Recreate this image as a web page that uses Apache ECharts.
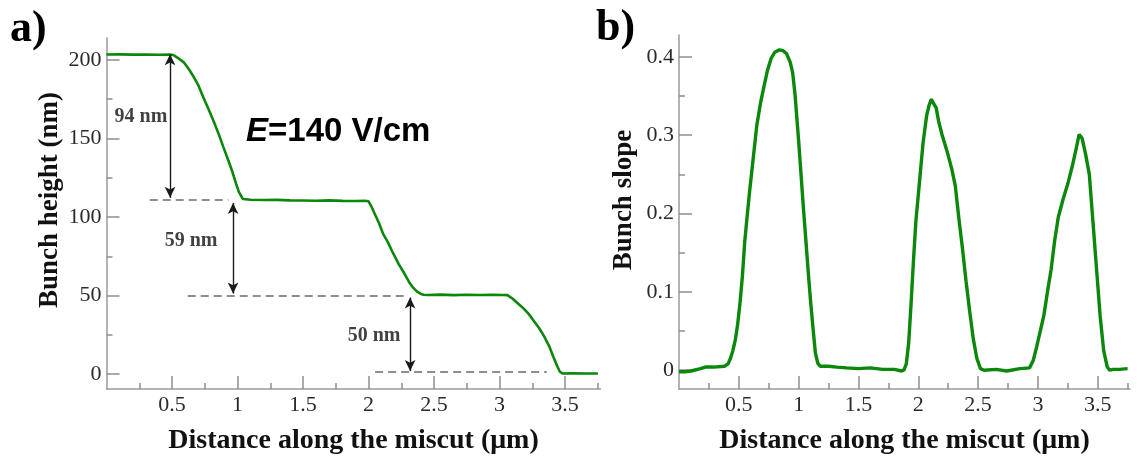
<!DOCTYPE html>
<html>
<head>
<meta charset="utf-8">
<script src="https://cdn.jsdelivr.net/npm/echarts@6/dist/echarts.min.js"></script>
<style>html,body{margin:0;padding:0;background:#fff}#c{width:1137px;height:460px}</style>
</head>
<body>
<div id="c"></div>
<script>
// ---------- Panel a: bunch height ----------
const heightX = [0.00,0.10,0.20,0.30,0.40,0.48,0.51,0.55,0.59,0.63,0.66,0.70,0.74,0.78,0.82,0.86,0.89,0.93,0.96,0.99,1.01,1.04,1.10,1.20,1.30,1.40,1.50,1.60,1.70,1.80,1.90,1.97,2.00,2.02,2.05,2.08,2.11,2.15,2.19,2.23,2.27,2.31,2.34,2.37,2.40,2.42,2.45,2.55,2.65,2.75,2.85,2.95,3.02,3.06,3.10,3.14,3.18,3.22,3.26,3.30,3.34,3.38,3.41,3.44,3.46,3.48,3.55,3.65,3.75];
const heightY = [203.5,203.6,203.4,203.5,203.3,203.4,203.2,201,198.5,194,190,184,176,168.5,160.5,152,145,136,129,121,116,111.5,111,110.8,110.9,110.6,110.5,110.4,110.6,110.3,110.2,110.4,110,107,101.5,96,89.5,83.5,76.5,70,64.5,58.5,55,52.5,51,50.5,50.4,50.6,50.3,50.5,50.4,50.5,50.4,50.3,48,45,42,38.5,34,29.5,24,17.5,11,5,1.5,0.4,0.5,0.4,0.4];

// ---------- Panel b: bunch slope ----------
const slopeX = [0.00,0.05,0.10,0.18,0.22,0.29,0.38,0.41,0.43,0.45,0.47,0.49,0.51,0.53,0.55,0.57,0.59,0.62,0.65,0.68,0.71,0.74,0.77,0.80,0.84,0.87,0.90,0.93,0.95,0.97,1.00,1.02,1.04,1.06,1.08,1.10,1.12,1.14,1.16,1.18,1.25,1.32,1.40,1.50,1.60,1.70,1.80,1.86,1.88,1.90,1.92,1.94,1.96,1.98,2.01,2.04,2.07,2.09,2.11,2.13,2.15,2.17,2.20,2.24,2.28,2.31,2.34,2.37,2.40,2.43,2.46,2.49,2.52,2.55,2.65,2.74,2.85,2.93,2.96,2.99,3.02,3.05,3.08,3.11,3.14,3.17,3.21,3.25,3.29,3.32,3.345,3.37,3.40,3.43,3.46,3.49,3.52,3.55,3.58,3.60,3.63,3.68,3.75];
const slopeY = [-0.002,-0.002,-0.001,0.002,0.004,0.004,0.005,0.008,0.015,0.025,0.038,0.058,0.086,0.12,0.165,0.197,0.228,0.27,0.312,0.34,0.362,0.383,0.398,0.406,0.409,0.408,0.404,0.393,0.38,0.352,0.293,0.25,0.207,0.167,0.126,0.088,0.054,0.022,0.009,0.005,0.005,0.004,0.003,0.002,0.003,0.001,0.001,-0.001,0.000,0.008,0.035,0.085,0.14,0.19,0.24,0.29,0.325,0.338,0.346,0.34,0.335,0.318,0.3,0.28,0.257,0.235,0.193,0.155,0.113,0.075,0.04,0.015,0.002,0.000,0.001,-0.001,0.002,0.003,0.012,0.03,0.05,0.07,0.1,0.128,0.165,0.195,0.218,0.238,0.262,0.283,0.301,0.296,0.275,0.25,0.19,0.13,0.07,0.025,0.004,0.000,0.001,0.001,0.002];

// ---------- ticks ----------
const xMajorTicks = [0.5,1,1.5,2,2.5,3,3.5];
const xMinorTicks = [0.25,0.75,1.25,1.75,2.25,2.75,3.25,3.75];
const heightMajorTicks = [0,50,100,150,200];
const heightMinorTicks = [25,75,125,175];
const slopeMajorTicks = [0,0.1,0.2,0.3,0.4];
const slopeMinorTicks = [0.05,0.15,0.25,0.35];

// ---------- annotations (panel a) ----------
const arrowX = [0.485, 0.966, 2.317];
const arrowTop = [203.7, 109, 48.7];
const arrowBottom = [112.2, 51.3, 1.9];
const dashY = [111, 49.6, 1.3];
const dashX0 = [0.33, 0.62, 2.05];
const dashX1 = [0.93, 2.29, 3.36];
const annoText = ['94 nm','59 nm','50 nm'];
const annoX = [0.263, 0.645, 2.042];
const annoY = [164, 85.1, 24.6];

const GREEN = '#0b870b';
const AXIS = '#9a9a9a';
const TICK = '#8f8f8f';
const SERIF = '"Liberation Serif", "Times New Roman", serif';

function zip(a, b) { return a.map((v, i) => [v, b[i]]); }

function xAxes(grid) {
  return [
    {
      type:'value', gridIndex:grid, position:'bottom', offset:0, min:0, max:3.77,
      axisLine:{show:true, onZero:false, lineStyle:{color:AXIS, width:1.5}},
      axisTick:{show:true, inside:true, length:13, customValues:xMajorTicks, lineStyle:{color:TICK, width:1.5}},
      axisLabel:{show:true, customValues:xMajorTicks, margin:5, fontSize:22, fontFamily:SERIF, color:'#2a2a2a', formatter:v=>String(v)},
      splitLine:{show:false},
      name:'Distance along the miscut (\u03bcm)', nameLocation:'middle', nameGap:38,
      nameTextStyle:{fontFamily:SERIF, fontWeight:'bold', fontSize:28, color:'#111'}
    },
    {
      type:'value', gridIndex:grid, position:'bottom', offset:0, min:0, max:3.77,
      axisLine:{show:false, onZero:false},
      axisTick:{show:true, inside:true, length:6, customValues:xMinorTicks, lineStyle:{color:TICK, width:1.5}},
      axisLabel:{show:false}, splitLine:{show:false}
    }
  ];
}
function yAxes(grid, min, max, major, minor, fmt) {
  return [
    {
      type:'value', gridIndex:grid, position:'left', offset:0, min:min, max:max,
      axisLine:{show:true, onZero:false, lineStyle:{color:AXIS, width:1.5}},
      axisTick:{show:true, inside:true, length:13, customValues:major, lineStyle:{color:TICK, width:1.5}},
      axisLabel:{show:true, customValues:major, margin:5, fontSize:22, fontFamily:SERIF, color:'#2a2a2a', formatter:fmt},
      splitLine:{show:false}
    },
    {
      type:'value', gridIndex:grid, position:'left', offset:0, min:min, max:max,
      axisLine:{show:false, onZero:false},
      axisTick:{show:true, inside:true, length:6, customValues:minor, lineStyle:{color:TICK, width:1.5}},
      axisLabel:{show:false}, splitLine:{show:false}
    }
  ];
}

const arrowData = arrowX.map((x, i) => [{coord:[x, arrowTop[i]]}, {coord:[x, arrowBottom[i]]}]);
const dashData = dashY.map((y, i) => [{coord:[dashX0[i], y]}, {coord:[dashX1[i], y]}]);

const chart = echarts.init(document.getElementById('c'), null, {renderer:'canvas'});
chart.setOption({
  animation:false,
  backgroundColor:'#fff',
  grid:[
    {left:106.5, top:38, width:494, height:355},
    {left:679, top:35, width:451, height:357}
  ],
  xAxis:[...xAxes(0), ...xAxes(1)],
  yAxis:[
    ...yAxes(0, -9.5, 214, heightMajorTicks, heightMinorTicks, v=>String(v)),
    ...yAxes(1, -0.024, 0.428, slopeMajorTicks, slopeMinorTicks, v=> v===0 ? '0' : v.toFixed(1))
  ],
  series:[
    {
      type:'line', xAxisIndex:0, yAxisIndex:0, data:zip(heightX, heightY),
      showSymbol:false, symbol:'none', lineStyle:{color:GREEN, width:2.6}, z:3,
      markLine:{
        silent:true, animation:false, symbol:['arrow','arrow'], symbolSize:[8,11],
        label:{show:false}, lineStyle:{color:'#1a1a1a', width:1.4, type:'solid'},
        emphasis:{disabled:true}, data:arrowData
      }
    },
    {
      type:'scatter', xAxisIndex:0, yAxisIndex:0, symbolSize:0, silent:true,
      data:annoX.map((x, i) => ({value:[x, annoY[i]], name:annoText[i]})),
      label:{show:true, position:'inside', formatter:p=>p.name, fontFamily:SERIF, fontWeight:'bold', fontSize:20, color:'#111'},
      markLine:{
        silent:true, animation:false, symbol:['none','none'],
        label:{show:false}, lineStyle:{color:'#6a6a6a', width:1.5, type:[8,5]},
        emphasis:{disabled:true}, data:dashData
      }
    },
    {
      type:'line', xAxisIndex:2, yAxisIndex:2, data:zip(slopeX, slopeY),
      showSymbol:false, symbol:'none', lineStyle:{color:GREEN, width:3.4}, z:3
    }
  ],
  graphic:[
    {type:'text', left:10, top:8, style:{text:'a)', font:'bold 44px ' + SERIF, fill:'#000'}},
    {type:'text', left:596, top:7, style:{text:'b)', font:'bold 44px ' + SERIF, fill:'#000'}},
    {type:'text', x:50, y:200, rotation:Math.PI/2,
      style:{text:'Bunch height (nm)', font:'bold 27px ' + SERIF, fill:'#111', align:'center', verticalAlign:'middle'}},
    {type:'text', x:624, y:200, rotation:Math.PI/2,
      style:{text:'Bunch slope', font:'bold 27px ' + SERIF, fill:'#111', align:'center', verticalAlign:'middle'}},
    {type:'text', x:246, y:132,
      style:{text:'{i|E}{n|=140 V/cm}', verticalAlign:'middle',
        rich:{
          i:{fontFamily:'"Liberation Sans", Arial, sans-serif', fontWeight:'bold', fontStyle:'italic', fontSize:33, fill:'#000'},
          n:{fontFamily:'"Liberation Sans", Arial, sans-serif', fontWeight:'bold', fontSize:33, fill:'#000'}
        }}}
  ]
});
</script>
</body>
</html>
